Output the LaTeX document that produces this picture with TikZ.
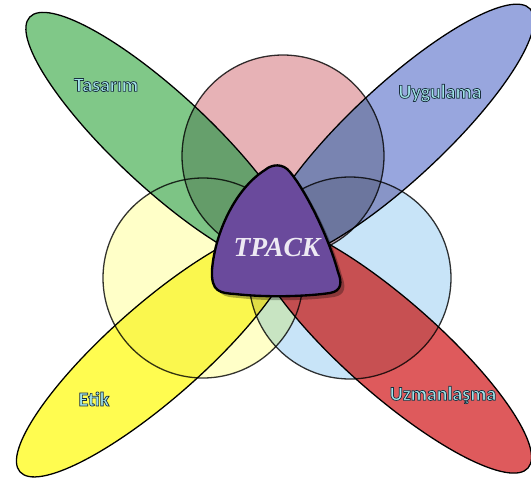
\documentclass[tikz,border=0pt]{standalone}
\usepackage{fontspec}
\setmainfont{Liberation Serif}
\newfontfamily\lblfont{Carlito}[FakeBold=3.5]

\definecolor{pinkK}{RGB}{231,178,182}
\definecolor{yellowK}{RGB}{255,255,200}
\definecolor{blueK}{RGB}{200,228,248}
\definecolor{greenE}{RGB}{128,200,136}
\definecolor{blueE}{RGB}{152,166,222}
\definecolor{yellowE}{RGB}{255,252,80}
\definecolor{redE}{RGB}{222,90,92}
\definecolor{tpackC}{RGB}{106,74,156}

% cyan letters with a dark rim (fill colour, stroke colour)
\newcommand\rimtext[1]{\special{pdf:bcolor [0.63 0.89 0.91] [0.1 0.18 0.24]}#1\special{pdf:ecolor}}

% rounded triangle in the middle
\def\tripath{(265,170) .. controls (236,188) and (215,232) .. (212,270)
  .. controls (211,292) and (220,293) .. (235,294)
  .. controls (270,298) and (310,296) .. (330,293)
  .. controls (342,291) and (342,282) .. (338,272)
  .. controls (328,235) and (305,190) .. (290,172)
  .. controls (283,163) and (272,164) .. (265,170) -- cycle}

\begin{document}
\begin{tikzpicture}[x=0.03cm,y=-0.03cm,
    rim/.style={draw=black,draw opacity=0.8,line width=1.1pt},
    tag/.style={font=\lblfont\bfseries\fontsize{17}{20}\selectfont}]
\useasboundingbox (0,0) rectangle (531,481);

% Knowledge circles
\coordinate (pk) at (283,156);
\coordinate (yk) at (203,278);
\coordinate (bk) at (350,278);
\fill[pinkK] (pk) circle (101);
\fill[yellowK,blend mode=multiply] (yk) circle (100);
\fill[blueK,blend mode=multiply] (bk) circle (101);

% Ellipses
\coordinate (gE) at (163,141);
\coordinate (bE) at (397,133);
\coordinate (yE) at (156.5,351.5);
\coordinate (rE) at (391.5,347.7);
\foreach \p/\a/\c in {gE/-42.9/greenE, bE/43/blueE, yE/41.4/yellowE, rE/-41.4/redE}
  \fill[\c, rotate around={\a:(\p)}] (\p) ellipse (182 and 47);

% darker where a petal lies on a circle
\foreach \k/\r/\t in {pk/101/black!20, bk/101/black!10, yk/100/black!2} {
  \begin{scope}
    \clip (\k) circle (\r);
    \foreach \p/\a in {gE/-42.9, bE/43, yE/41.4, rE/-41.4}
      \fill[\t, blend mode=multiply, rotate around={\a:(\p)}] (\p) ellipse (182 and 47);
  \end{scope}
}

% circle outlines show through
\draw[rim] (pk) circle (101);
\draw[rim] (yk) circle (100);
\draw[rim] (bk) circle (101);

\foreach \p/\a in {gE/-42.9, bE/43, yE/41.4, rE/-41.4}
  \draw[line width=1.1pt, rotate around={\a:(\p)}] (\p) ellipse (182 and 47);

% TPACK
\fill[black,opacity=0.3,shift={(4,4)}] \tripath;
\draw[fill=tpackC,line width=2pt,line join=round] \tripath;
\node[font=\bfseries\itshape\fontsize{23.5}{26}\selectfont,text=white!88!tpackC] (tpack) at (277,248) {TPACK};

\node[tag] (tas) at (106,85) {\rimtext{Tasarım}};
\node[tag] (uyg) at (440,93) {\rimtext{Uygulama}};
\node[tag] (etk) at (94,399) {\rimtext{Etik}};
\node[tag] (uzm) at (443,395) {\rimtext{Uzmanlaşma}};
\end{tikzpicture}
\end{document}
